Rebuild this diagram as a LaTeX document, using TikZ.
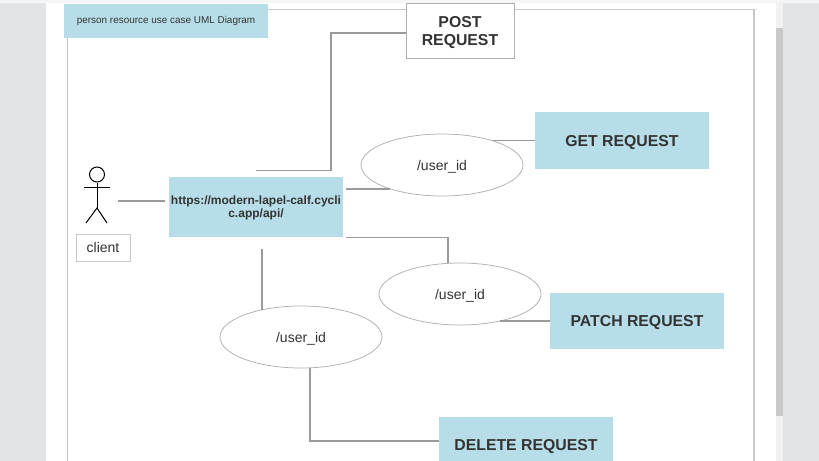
\documentclass[tikz,border=0pt]{standalone}
\usepackage{fontspec}
\setmainfont{Liberation Sans}
\usetikzlibrary{shapes.geometric}
\definecolor{boxblue}{HTML}{B7DDE8}
\definecolor{sidegray}{HTML}{E3E4E6}
\definecolor{topstrip}{HTML}{F4F5F7}
\definecolor{track}{HTML}{F1F1F1}
\definecolor{thumb}{HTML}{C9C9C9}
\definecolor{framegray}{HTML}{C8C8C8}
\definecolor{linegray}{HTML}{9A9A9A}
\definecolor{txt}{HTML}{333333}
\newcommand{\lowtext}[1]{\raisebox{-1.3pt}[\height][\depth]{#1}}
\newcommand{\urltext}[1]{\raisebox{-0.7pt}[\height][\depth]{#1}}
\tikzset{
  px/.style={x=0.75pt,y=-0.75pt},
  bluebox/.style={fill=boxblue,draw=none,inner sep=0pt,text=txt,align=center},
  wbox/.style={fill=white,draw=#1,line width=0.6pt,inner sep=0pt,text=txt,align=center},
  big/.style={font=\fontsize{11.85}{13.5}\selectfont\bfseries},
  usecase/.style={ellipse,fill=white,draw=linegray!80,line width=0.55pt,inner sep=0pt,
    minimum width=121.5pt,minimum height=46.5pt,text=txt,font=\fontsize{10.5}{12}\selectfont},
  conn/.style={draw=linegray,line width=1.05pt},
  actor/.style={draw=black,line width=0.75pt},
}
\begin{document}
\begin{tikzpicture}[px]
\clip (0,0) rectangle (819,461);
\fill[white] (0,0) rectangle (819,461);
\fill[topstrip] (0,0) rectangle (819,3);
\fill[sidegray] (0,3) rectangle (46,461);
\fill[sidegray] (783,3) rectangle (819,461);
\fill[track] (776,3) rectangle (783,461);
\fill[thumb] (776,28) rectangle (783,416);
\draw[framegray,line width=1.4pt] (67.5,475) -- (67.5,9.5) -- (754,9.5) -- (754,475);
% boxes
\node[bluebox,minimum width=153pt,minimum height=25.5pt,font=\fontsize{7.45}{8}\selectfont] (title) at (166,21) {person resource use case UML Diagram};
\node[wbox=linegray!80,minimum width=81pt,minimum height=41.25pt,big] (post) at (460,30.5) {\lowtext{POST}\\\lowtext{REQUEST}};
\node[bluebox,minimum width=130.5pt,minimum height=42.75pt,big] (get) at (622,140.5) {\lowtext{GET REQUEST}};
\node[bluebox,minimum width=130.5pt,minimum height=45pt,font=\fontsize{9}{9.9}\selectfont\bfseries] (url) at (256,207) {\urltext{https://modern-lapel-calf.cycli}\\\urltext{c.app/api/}};
\node[bluebox,minimum width=130.5pt,minimum height=42pt,big] (patch) at (637,321) {\lowtext{PATCH REQUEST}};
\node[bluebox,minimum width=130.5pt,minimum height=42pt,big] (del) at (526,445) {\lowtext{DELETE REQUEST}};
\node[wbox=framegray,minimum width=40.5pt,minimum height=20.25pt,font=\fontsize{10.5}{12}\selectfont] (clientlabel) at (103,247.5) {client};
% actor
\node[circle,actor,inner sep=0pt,minimum size=11.25pt] (head) at (97,174.5) {};
\coordinate (hip) at (97,208);
\draw[actor] (head.south) -- (hip);
\draw[actor] (84,187) -- (110,187);
\draw[actor] (86,223) -- (hip) -- (107,223);
% use cases
\node[usecase] (uc1) at (442,165) {\lowtext{/user\_id}};
\node[usecase] (uc2) at (460,294) {\lowtext{/user\_id}};
\node[usecase] (uc3) at (301,337) {\lowtext{/user\_id}};
% connectors
\draw[conn] ([xshift=-38.25pt,yshift=4.5pt]url.west) -- ([xshift=-3pt,yshift=4.5pt]url.west);
\draw[conn] ([yshift=4.5pt]url.north) -- ++(75,0) |- ([yshift=-1.9pt]post.west);
\draw[conn] ([xshift=2.25pt,yshift=13.5pt]url.east) -- ++(44,0);
\draw[conn] (get.west) -- ++(-42,0);
\draw[conn] ([xshift=2.25pt]url.south east) -| ([xshift=-9pt]uc2.north);
\draw[conn] (patch.west) -- ++(-50,0);
\draw[conn] ([xshift=4.5pt,yshift=-9pt]url.south) -- ++(0,61);
\draw[conn] ([xshift=6.75pt]uc3.south) |- ([yshift=3pt]del.west);
\end{tikzpicture}
\end{document}
